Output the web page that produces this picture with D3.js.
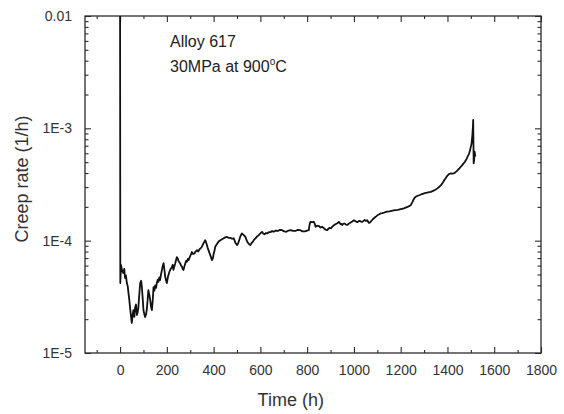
<!DOCTYPE html>
<html>
<head>
<meta charset="utf-8">
<script src="https://cdn.jsdelivr.net/npm/d3@7"></script>
<style>
  html, body { margin: 0; padding: 0; background: #fff; }
  svg { display: block; font-family: "Liberation Sans", Arial, sans-serif; }
</style>
</head>
<body>
<svg id="chart" width="564" height="414"></svg>
<script>
// ---- data ----
const timeH = [0, 1, 4, 9, 14, 18, 21, 25, 29, 33, 36, 40, 43, 47, 50, 54, 57, 61, 64, 68, 72, 75, 78, 82, 86, 90, 93, 97, 100, 104, 107, 111, 114, 118, 121, 125, 129, 132, 136, 140, 143, 147, 150, 154, 157, 161, 164, 168, 171, 175, 179, 182, 186, 190, 193, 197, 200, 205, 211, 216, 222, 225, 228, 232, 236, 240, 243, 247, 250, 254, 257, 261, 264, 268, 271, 275, 279, 282, 286, 290, 293, 300, 307, 312, 318, 323, 329, 334, 340, 345, 350, 357, 364, 368, 371, 375, 378, 386, 393, 397, 400, 404, 407, 412, 418, 423, 429, 436, 443, 450, 457, 464, 471, 479, 486, 493, 500, 505, 510, 515, 521, 529, 536, 541, 546, 552, 557, 562, 568, 573, 579, 586, 593, 600, 607, 612, 618, 623, 629, 636, 643, 650, 657, 666, 675, 684, 693, 702, 711, 720, 729, 740, 750, 760, 771, 780, 790, 800, 807, 810, 814, 822, 829, 833, 836, 843, 850, 857, 864, 870, 875, 880, 886, 891, 897, 902, 907, 914, 921, 929, 936, 940, 943, 947, 950, 956, 961, 966, 971, 979, 986, 993, 1000, 1007, 1014, 1020, 1025, 1030, 1036, 1041, 1046, 1052, 1057, 1061, 1064, 1068, 1071, 1077, 1082, 1088, 1093, 1099, 1104, 1109, 1114, 1121, 1129, 1136, 1143, 1152, 1161, 1170, 1179, 1188, 1196, 1205, 1214, 1221, 1229, 1236, 1243, 1249, 1254, 1259, 1264, 1273, 1282, 1291, 1300, 1307, 1314, 1321, 1329, 1336, 1343, 1350, 1357, 1364, 1371, 1379, 1386, 1393, 1400, 1407, 1414, 1420, 1425, 1430, 1436, 1441, 1446, 1452, 1457, 1463, 1468, 1474, 1479, 1483, 1486, 1490, 1493, 1496, 1498, 1501, 1503, 1505, 1507, 1509, 1510, 1512, 1514, 1516, 1519];
const creepRate = [1e-2, 4.2e-5, 6.07e-5, 5.4e-5, 5.15e-5, 5.6e-5, 4.65e-5, 4.9e-5, 4.19e-5, 3.9e-5, 3.41e-5, 2.9e-5, 2.51e-5, 2.1e-5, 1.85e-5, 2.2e-5, 2.41e-5, 2.1e-5, 2.51e-5, 2.7e-5, 2.18e-5, 2.3e-5, 2.51e-5, 3.3e-5, 4.19e-5, 4.4e-5, 3.89e-5, 3.0e-5, 2.41e-5, 2.2e-5, 2.09e-5, 2.2e-5, 2.41e-5, 3.0e-5, 3.63e-5, 3.3e-5, 2.96e-5, 2.6e-5, 2.41e-5, 3.0e-5, 3.86e-5, 3.6e-5, 4.0e-5, 3.8e-5, 4.19e-5, 4.5e-5, 4.3e-5, 4.7e-5, 4.46e-5, 5.0e-5, 5.5e-5, 5.9e-5, 6.3e-5, 5.4e-5, 4.77e-5, 4.4e-5, 4.19e-5, 4.8e-5, 5.29e-5, 5.6e-5, 5.82e-5, 6.1e-5, 5.5e-5, 5.9e-5, 6.3e-5, 6.8e-5, 7.14e-5, 6.9e-5, 6.6e-5, 6.4e-5, 6.28e-5, 6.0e-5, 5.9e-5, 5.6e-5, 5.47e-5, 5.9e-5, 6.3e-5, 6.6e-5, 6.5e-5, 6.9e-5, 6.71e-5, 7.3e-5, 7.92e-5, 7.6e-5, 7.7e-5, 8.0e-5, 8.24e-5, 8.0e-5, 8.4e-5, 8.6e-5, 8.83e-5, 9.5e-5, 1.01e-4, 9.6e-5, 9.2e-5, 8.6e-5, 8.24e-5, 7.4e-5, 6.71e-5, 7.0e-5, 7.6e-5, 8.2e-5, 8.83e-5, 9.2e-5, 9.6e-5, 9.9e-5, 1.01e-4, 1.03e-4, 1.05e-4, 1.07e-4, 1.08e-4, 1.06e-4, 1.06e-4, 1.04e-4, 1.05e-4, 9.6e-5, 9.14e-5, 9.5e-5, 1.02e-4, 1.1e-4, 1.16e-4, 1.12e-4, 1.08e-4, 1.01e-4, 9.6e-5, 9.3e-5, 9.14e-5, 9.5e-5, 9.8e-5, 1.02e-4, 1.05e-4, 1.09e-4, 1.12e-4, 1.16e-4, 1.2e-4, 1.16e-4, 1.14e-4, 1.17e-4, 1.16e-4, 1.19e-4, 1.19e-4, 1.22e-4, 1.2e-4, 1.23e-4, 1.22e-4, 1.25e-4, 1.24e-4, 1.21e-4, 1.2e-4, 1.23e-4, 1.24e-4, 1.22e-4, 1.22e-4, 1.25e-4, 1.24e-4, 1.21e-4, 1.21e-4, 1.23e-4, 1.24e-4, 1.38e-4, 1.47e-4, 1.46e-4, 1.47e-4, 1.4e-4, 1.33e-4, 1.36e-4, 1.35e-4, 1.31e-4, 1.33e-4, 1.3e-4, 1.27e-4, 1.25e-4, 1.24e-4, 1.28e-4, 1.3e-4, 1.29e-4, 1.33e-4, 1.37e-4, 1.4e-4, 1.43e-4, 1.47e-4, 1.43e-4, 1.4e-4, 1.41e-4, 1.38e-4, 1.42e-4, 1.42e-4, 1.39e-4, 1.38e-4, 1.42e-4, 1.45e-4, 1.48e-4, 1.52e-4, 1.49e-4, 1.46e-4, 1.49e-4, 1.5e-4, 1.48e-4, 1.47e-4, 1.5e-4, 1.53e-4, 1.5e-4, 1.52e-4, 1.47e-4, 1.44e-4, 1.45e-4, 1.47e-4, 1.52e-4, 1.56e-4, 1.6e-4, 1.63e-4, 1.67e-4, 1.7e-4, 1.72e-4, 1.75e-4, 1.76e-4, 1.78e-4, 1.8e-4, 1.81e-4, 1.82e-4, 1.84e-4, 1.86e-4, 1.87e-4, 1.88e-4, 1.9e-4, 1.92e-4, 1.94e-4, 1.97e-4, 2.0e-4, 2.03e-4, 2.07e-4, 2.18e-4, 2.3e-4, 2.4e-4, 2.46e-4, 2.51e-4, 2.55e-4, 2.6e-4, 2.64e-4, 2.66e-4, 2.68e-4, 2.7e-4, 2.72e-4, 2.76e-4, 2.8e-4, 2.85e-4, 2.92e-4, 3.0e-4, 3.1e-4, 3.25e-4, 3.45e-4, 3.62e-4, 3.8e-4, 3.92e-4, 3.97e-4, 3.95e-4, 3.97e-4, 4.0e-4, 4.1e-4, 4.18e-4, 4.3e-4, 4.42e-4, 4.55e-4, 4.7e-4, 4.85e-4, 5.02e-4, 5.22e-4, 5.4e-4, 5.6e-4, 5.8e-4, 5.99e-4, 6.3e-4, 6.6e-4, 7.0e-4, 7.35e-4, 8.0e-4, 9.0e-4, 1.05e-3, 1.19e-3, 4.88e-4, 5.2e-4, 6.19e-4, 5.6e-4];

const xMajorTicks = [0, 200, 400, 600, 800, 1000, 1200, 1400, 1600, 1800];
const xMinorTicks = [-100, 100, 300, 500, 700, 900, 1100, 1300, 1500, 1700];
const yMajorTicks = [1e-5, 1e-4, 1e-3, 1e-2];
const yTickLabels = ["1E-5", "1E-4", "1E-3", "0.01"];
const xTitle = "Time (h)";
const yTitle = "Creep rate (1/h)";
const noteLine1 = "Alloy 617";
const noteLine2 = "30MPa at 900";

// ---- layout ----
const L = 85, R = 541, T = 16, B = 353;
const svg = d3.select("#chart");
const x = d3.scaleLinear().domain([-150, 1800]).range([L, R]);
const y = d3.scaleLog().domain([1e-5, 1e-2]).range([B, T]);

const axisColor = "#2b2b2b";
const textColor = "#333";

// y minor ticks
const yMinor = [];
for (let e = -5; e < -2; e++) for (let m = 2; m <= 9; m++) yMinor.push(m * Math.pow(10, e));

const g = svg.append("g");

g.append("g").attr("transform", `translate(0,${B})`)
  .call(d3.axisBottom(x).tickValues(xMajorTicks).tickSize(-6).tickPadding(12).tickFormat(d3.format("d")));
g.append("g").attr("transform", `translate(0,${B})`)
  .call(d3.axisBottom(x).tickValues(xMinorTicks).tickSize(-3).tickFormat(""));
g.append("g").attr("transform", `translate(0,${T})`)
  .call(d3.axisTop(x).tickValues(xMajorTicks).tickSize(-6).tickFormat(""));
g.append("g").attr("transform", `translate(0,${T})`)
  .call(d3.axisTop(x).tickValues(xMinorTicks).tickSize(-3).tickFormat(""));
g.append("g").attr("transform", `translate(${L},0)`)
  .call(d3.axisLeft(y).tickValues(yMajorTicks).tickSize(-6).tickPadding(13).tickFormat((d, i) => yTickLabels[i]));
g.append("g").attr("transform", `translate(${L},0)`)
  .call(d3.axisLeft(y).tickValues(yMinor).tickSize(-3.5).tickFormat(""));
g.append("g").attr("transform", `translate(${R},0)`)
  .call(d3.axisRight(y).tickValues(yMajorTicks).tickSize(-6).tickFormat(""));
g.append("g").attr("transform", `translate(${R},0)`)
  .call(d3.axisRight(y).tickValues(yMinor).tickSize(-3.5).tickFormat(""));

g.selectAll(".domain").remove();
g.selectAll(".tick line").attr("stroke", axisColor).attr("stroke-width", 1.1);
g.selectAll(".tick text").attr("fill", textColor).style("font-size", "14px")
  .style("font-family", "'Liberation Sans', Arial, sans-serif");

// frame
svg.append("rect").attr("x", L).attr("y", T).attr("width", R - L).attr("height", B - T)
  .attr("fill", "none").attr("stroke", axisColor).attr("stroke-width", 1.3);

// clip
svg.append("clipPath").attr("id", "clip").append("rect")
  .attr("x", L).attr("y", T).attr("width", R - L).attr("height", B - T);

const pts = timeH.map((t, i) => [t, creepRate[i]]);
const line = d3.line().x(d => x(d[0])).y(d => y(d[1]));
svg.append("path").datum(pts).attr("clip-path", "url(#clip)")
  .attr("d", line).attr("fill", "none").attr("stroke", "#111").attr("stroke-width", 1.8)
  .attr("stroke-linejoin", "round");

// titles
svg.append("text").attr("x", x(730)).attr("y", 406).attr("text-anchor", "middle")
  .attr("fill", textColor).style("font-size", "18px").text(xTitle);
svg.append("text").attr("transform", `translate(28,179) rotate(-90)`).attr("text-anchor", "middle")
  .attr("fill", textColor).style("font-size", "18px").text(yTitle);

// annotation
svg.append("text").attr("x", 170).attr("y", 47).attr("fill", "#222").style("font-size", "16px").text(noteLine1);
const n2 = svg.append("text").attr("x", 170).attr("y", 72).attr("fill", "#222").style("font-size", "16px");
n2.append("tspan").text(noteLine2);
n2.append("tspan").attr("dy", -7).style("font-size", "10px").text("o");
n2.append("tspan").attr("dy", 7).text("C");
</script>
</body>
</html>
